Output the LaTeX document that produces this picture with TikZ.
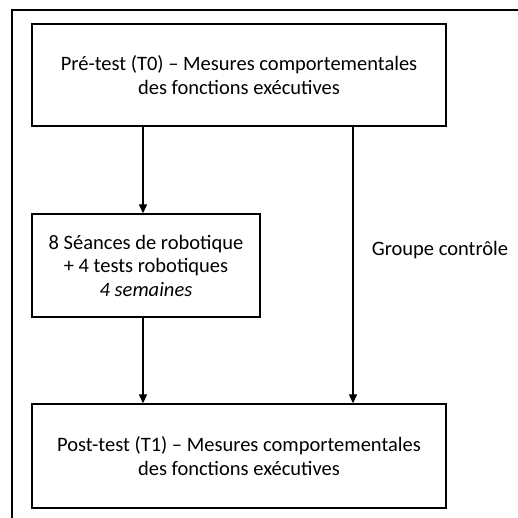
\documentclass[tikz,border=0pt]{standalone}
\usepackage{fontspec}
\setmainfont{Carlito}
\usetikzlibrary{arrows.meta}
\begin{document}
\begin{tikzpicture}[x=1pt,y=-1pt,
  box/.style={draw, line width=1.4pt, rectangle, align=center, inner sep=0pt,
    font=\fontsize{20.5}{23.5}\selectfont},
  arr/.style={line width=1.3pt, -{Triangle[length=9pt,width=8pt]}},
  lbl/.style={font=\fontsize{20.5}{23.5}\selectfont, inner sep=0pt}]
  \useasboundingbox (0,0) rectangle (518,517);
  \clip (0,0) rectangle (518,517);
  % outer frame
  \draw[line width=1.4pt] (12,530) -- (12,10) -- (530,10);
  % boxes
  \node[box, minimum width=414pt, minimum height=102pt] (pre) at (239,75)
    {Pré-test (T0) – Mesures comportementales\\des fonctions exécutives};
  \node[box, minimum width=228pt, minimum height=103pt] (rob) at (146,265.5)
    {8 Séances de robotique\\+ 4 tests robotiques\\\textit{4 semaines}};
  \node[box, minimum width=414pt, minimum height=104pt] (post) at (239,456)
    {Post-test (T1) – Mesures comportementales\\des fonctions exécutives};
  \node[lbl] (ctrl) at (440,250) {Groupe contrôle};
  % arrow columns
  \coordinate (cl) at (143,0);
  \coordinate (cr) at (353,0);
  \draw[arr] (pre.south -| cl) -- (rob.north -| cl);
  \draw[arr] (rob.south -| cl) -- (post.north -| cl);
  \draw[arr] (pre.south -| cr) -- (post.north -| cr);
\end{tikzpicture}
\end{document}
